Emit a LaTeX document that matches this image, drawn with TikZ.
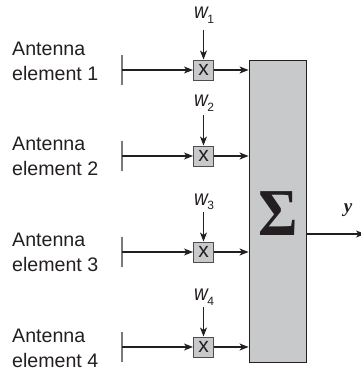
\documentclass[tikz,border=0pt]{standalone}
\usepackage{fontspec}
\setmainfont{Liberation Sans}
\newfontfamily\serifbf{Liberation Serif}
\usetikzlibrary{arrows.meta}
\definecolor{boxgray}{HTML}{C8C9CB}
\definecolor{inkline}{HTML}{231F20}
\tikzset{
  px/.style={x=1pt,y=-1pt},
  mult/.style={draw=inkline!80,line width=1pt,fill=boxgray,minimum width=20pt,minimum height=20pt,inner sep=0pt,font=\fontsize{21}{21}\selectfont,text=inkline},
  sumbox/.style={draw=inkline,line width=0.9pt,fill=boxgray,minimum width=57.5pt,minimum height=302pt,inner sep=0pt},
  sig/.style={inner sep=0pt,text=inkline,font=\serifbf\bfseries\fontsize{67}{67}\selectfont},
  wire/.style={draw=inkline,line width=1.05pt,-{Stealth[length=9pt,width=7pt,inset=2.5pt]}},
  antbar/.style={draw=inkline!60,line width=1.1pt},
  antlabel/.style={anchor=base west,align=left,inner sep=0pt,text=inkline,font=\fontsize{19.6}{24.5}\selectfont},
  wlabel/.style={inner sep=0pt,text=inkline,font=\fontsize{19}{19}\selectfont},
}
\newcommand{\wsub}[1]{\scalebox{1}[1.15]{\textit{w}}\kern-1.5pt\raisebox{-4.5pt}{\fontsize{12}{12}\selectfont #1}}
\begin{document}
\begin{tikzpicture}[px]
\useasboundingbox (0,0) rectangle (361,370);
\node[sumbox] (sum) at (277.75,211) {};
\node[sig] (sigma) at (278,214) {\scalebox{0.9}[1]{Σ}};
\foreach \i/\ry/\wtop/\wy/\la/\lb in {1/70/30/15/80/55,2/156/115/103/175/151,3/252/212/202/271/247,4/347/307/297/367/343}{
  \node[mult] (box\i) at (203.5,\ry) {x};
  \coordinate (barT\i) at (122,\ry-15);
  \coordinate (barB\i) at (122,\ry+15);
  \coordinate (barM\i) at (122,\ry);
  \coordinate (wtop\i) at (203.5,\wtop);
  \draw[antbar] (barT\i) -- (barB\i);
  \draw[wire] (barM\i) -- (box\i.west);
  \draw[wire] (box\i.east) -- (box\i -| sum.west);
  \draw[wire] (wtop\i) -- (box\i.north);
  \node[wlabel] (w\i) at (204,\wy) {\wsub{\i}};
  \node[antlabel] (ant\i) at (12,\la) {Antenna\\element \i};
}
\coordinate (out) at (365,234);
\draw[wire] (sum.east |- out) -- (out);
\node[inner sep=0pt,text=inkline,font=\serifbf\bfseries\itshape\fontsize{19}{19}\selectfont] (y) at (348,210) {y};
\end{tikzpicture}
\end{document}
